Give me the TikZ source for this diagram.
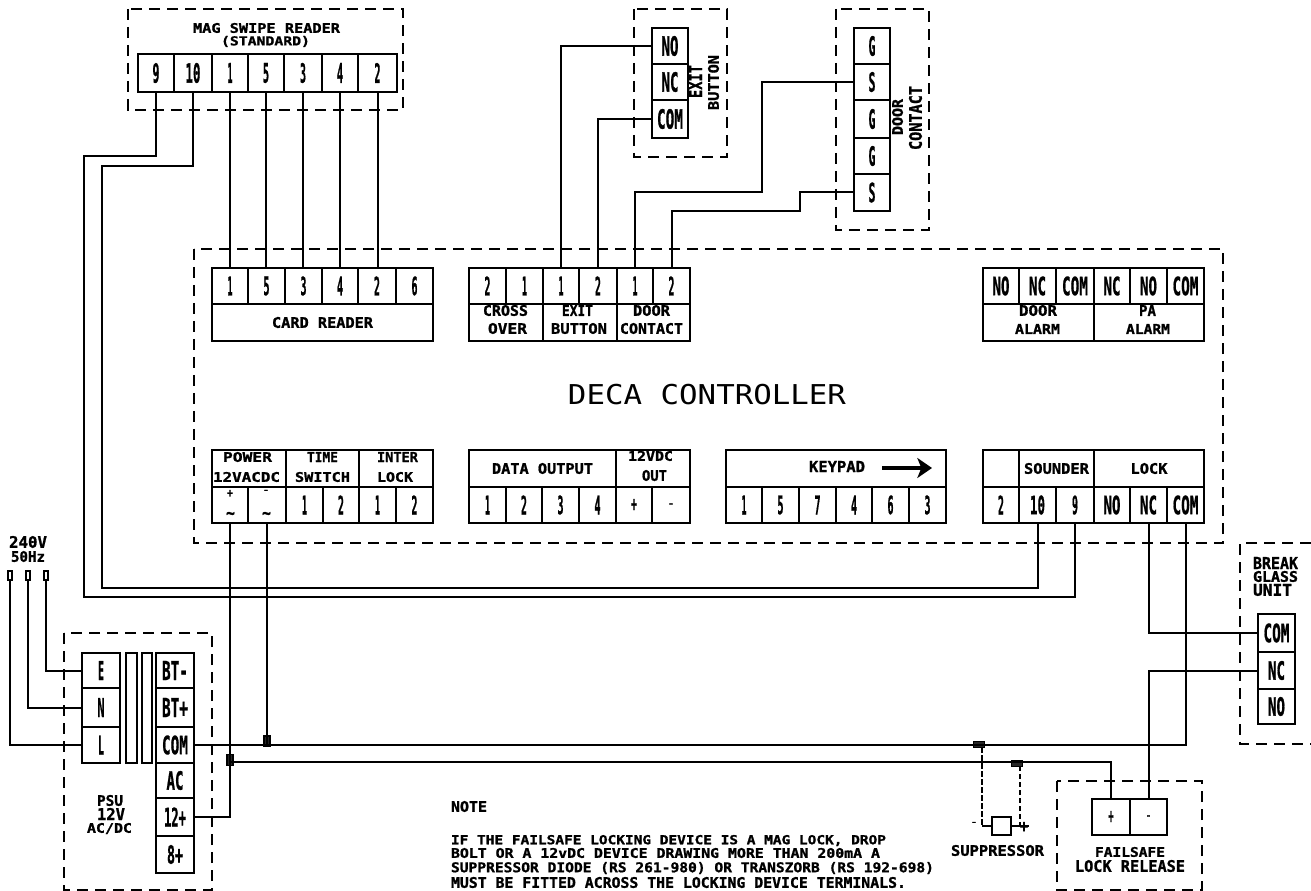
\documentclass[tikz,border=0pt]{standalone}
\usepackage{graphicx}
\usepackage{fontspec}
\setmainfont{DejaVu Sans Mono}[BoldFeatures={FakeBold=1.2}]
\usetikzlibrary{arrows.meta}
\tikzset{
  termbox/.style={draw=black,line width=1.5pt,rectangle,inner sep=0pt,outer sep=0pt,align=center},
  lblnode/.style={inner sep=0pt,outer sep=0pt},
  dashbox/.style={draw=black,line width=1.3pt,dash pattern=on 8.5pt off 5pt},
  wire/.style={draw=black,line width=1.5pt},
  sdash/.style={draw=black,line width=1.2pt,dash pattern=on 4pt off 2pt},
  blob/.style={draw=black,fill=black!85,line width=.8pt,rectangle,inner sep=0pt,outer sep=0pt},
}
\newcommand\fitted[3]{\resizebox*{#1pt}{#2pt}{\bfseries #3}}
% name x1 y1 x2 y2 textw texth text
\newcommand\tbx[8]{%
  \pgfmathsetmacro\cx{(#2+#4)/2}\pgfmathsetmacro\cy{(#3+#5)/2}%
  \pgfmathsetmacro\tw{#6*.75}\pgfmathsetmacro\th{#7*.75}%
  \node[termbox,minimum width={(#4-#2)*.75pt},minimum height={(#5-#3)*.75pt}] (#1) at (\cx,\cy) {\fitted{\tw}{\th}{#8}};}
% empty box
\newcommand\ebx[5]{%
  \pgfmathsetmacro\cx{(#2+#4)/2}\pgfmathsetmacro\cy{(#3+#5)/2}%
  \node[termbox,minimum width={(#4-#2)*.75pt},minimum height={(#5-#3)*.75pt}] (#1) at (\cx,\cy) {};}
% name x1 y1 x2 y2 text
\newcommand\lbl[6]{%
  \pgfmathsetmacro\cx{(#2+#4)/2}\pgfmathsetmacro\cy{(#3+#5)/2}%
  \pgfmathsetmacro\tw{(#4-#2)*.75}\pgfmathsetmacro\th{(#5-#3)*.75}%
  \node[lblnode] (#1) at (\cx,\cy) {\fitted{\tw}{\th}{#6}};}
\newcommand\rlbl[6]{%
  \pgfmathsetmacro\cx{(#2+#4)/2}\pgfmathsetmacro\cy{(#3+#5)/2}%
  \pgfmathsetmacro\tw{(#5-#3)*.75}\pgfmathsetmacro\th{(#4-#2)*.75}%
  \node[lblnode,rotate=90] (#1) at (\cx,\cy) {\fitted{\tw}{\th}{#6}};}
\begin{document}
\begin{tikzpicture}[x=.75pt,y=-.75pt]
\useasboundingbox (0,0) rectangle (1311,891);
\fill[white] (0,0) rectangle (1311,891);
% dashed enclosures
\draw[dashbox] (128,9) rectangle (403,110);
\draw[dashbox] (194,249) rectangle (1223,543);
\draw[dashbox] (634,9) rectangle (727,157);
\draw[dashbox] (836,9) rectangle (929,230);
\draw[dashbox] (64,633) rectangle (212,890);
\draw[dashbox] (1057,781) rectangle (1202,890);
\draw[dashbox] (1311,543) -- (1240,543) -- (1240,744) -- (1311,744);
% mag swipe
\lbl{tmag}{193}{23}{340}{33}{MAG SWIPE READER}
\lbl{tstd}{221}{36}{310}{47}{(STANDARD)}
\tbx{ma}{138}{54}{174}{92}{7}{20}{9}
\tbx{mb}{174}{54}{212}{92}{15}{20}{10}
\tbx{mc}{212}{54}{248}{92}{5}{20}{1}
\tbx{md}{248}{54}{284}{92}{6}{20}{5}
\tbx{me}{284}{54}{322}{92}{6}{20}{3}
\tbx{mf}{322}{54}{358}{92}{6}{20}{4}
\tbx{mg}{358}{54}{397}{92}{6}{20}{2}
% exit button
\tbx{xa}{652}{28}{688}{64}{17}{20}{NO}
\tbx{xb}{652}{64}{688}{100}{17}{20}{NC}
\tbx{xc}{652}{100}{688}{138}{26}{20}{COM}
\rlbl{txa}{689}{65}{702}{98}{EXIT}
\rlbl{txb}{708}{55}{719}{110}{BUTTON}
% door contact
\tbx{da}{854}{28}{890}{64}{7}{20}{G}
\tbx{db}{854}{64}{890}{100}{7}{20}{S}
\tbx{dc}{854}{100}{890}{138}{7}{20}{G}
\tbx{dd}{854}{138}{890}{174}{7}{20}{G}
\tbx{de}{854}{174}{890}{211}{7}{20}{S}
\rlbl{tda}{892}{99}{903}{135}{DOOR}
\rlbl{tdb}{909}{86}{922}{150}{CONTACT}
% controller title
\node[lblnode] (title) at (707,394.5) {\resizebox*{208.5pt}{15.5pt}{DECA CONTROLLER}};
% card reader
\tbx{ca}{212}{268}{248}{304}{5}{19}{1}
\tbx{cb}{248}{268}{285}{304}{6}{19}{5}
\tbx{cc}{285}{268}{322}{304}{6}{19}{3}
\tbx{cd}{322}{268}{358}{304}{6}{19}{4}
\tbx{ce}{358}{268}{396}{304}{6}{19}{2}
\tbx{cf}{396}{268}{433}{304}{6}{19}{6}
\tbx{cl}{212}{304}{433}{341}{101}{11}{CARD READER}
% crossover / exit / door
\tbx{oa}{469}{268}{506}{304}{6}{19}{2}
\tbx{ob}{506}{268}{543}{304}{5}{19}{1}
\tbx{oc}{543}{268}{579}{304}{5}{19}{1}
\tbx{od}{579}{268}{617}{304}{6}{19}{2}
\tbx{oe}{617}{268}{653}{304}{5}{19}{1}
\tbx{of}{653}{268}{690}{304}{6}{19}{2}
\ebx{ol}{469}{304}{543}{341}
\ebx{om}{543}{304}{617}{341}
\ebx{on}{617}{304}{690}{341}
\lbl{ola}{483}{305}{528}{316}{CROSS}
\lbl{olb}{488}{323}{527}{334}{OVER}
\lbl{oma}{562}{305}{593}{316}{EXIT}
\lbl{omb}{551}{323}{607}{334}{BUTTON}
\lbl{ona}{633}{305}{670}{316}{DOOR}
\lbl{onb}{620}{323}{683}{334}{CONTACT}
% alarms
\tbx{aa}{983}{268}{1019}{304}{17}{19}{NO}
\tbx{ab}{1019}{268}{1056}{304}{17}{19}{NC}
\tbx{ac}{1056}{268}{1094}{304}{26}{19}{COM}
\tbx{ad}{1094}{268}{1130}{304}{17}{19}{NC}
\tbx{ae}{1130}{268}{1167}{304}{17}{19}{NO}
\tbx{af}{1167}{268}{1204}{304}{26}{19}{COM}
\ebx{al}{983}{304}{1094}{341}
\ebx{am}{1094}{304}{1204}{341}
\lbl{ala}{1019}{305}{1057}{316}{DOOR}
\lbl{alb}{1015}{324}{1060}{334}{ALARM}
\lbl{ama}{1139}{305}{1156}{316}{PA}
\lbl{amb}{1126}{324}{1170}{334}{ALARM}
% power group
\ebx{pl}{212}{450}{286}{487}
\ebx{pm}{286}{450}{359}{487}
\ebx{pn}{359}{450}{433}{487}
\lbl{pla}{223}{452}{272}{462}{POWER}
\lbl{plb}{213}{472}{280}{482}{12VACDC}
\lbl{pma}{307}{452}{338}{462}{TIME}
\lbl{pmb}{295}{472}{350}{482}{SWITCH}
\lbl{pna}{377}{452}{418}{462}{INTER}
\lbl{pnb}{377}{472}{413}{482}{LOCK}
\ebx{pa}{212}{487}{248}{523}
\ebx{pb}{248}{487}{286}{523}
\lbl{paa}{227}{490}{233}{497}{+}
\lbl{pab}{226}{512}{235}{519}{\~{}}
\lbl{pba}{263}{490}{269}{492}{-}
\lbl{pbb}{262}{512}{271}{519}{\~{}}
\tbx{pc}{286}{487}{323}{523}{5}{19}{1}
\tbx{pd}{323}{487}{359}{523}{6}{19}{2}
\tbx{pe}{359}{487}{396}{523}{5}{19}{1}
\tbx{pf}{396}{487}{433}{523}{6}{19}{2}
% data output
\tbx{ql}{469}{450}{616}{487}{101}{11}{DATA OUTPUT}
\ebx{qm}{616}{450}{690}{487}
\lbl{qma}{628}{451}{673}{461}{12VDC}
\lbl{qmb}{642}{470}{667}{481}{OUT}
\tbx{qa}{469}{487}{506}{523}{5}{19}{1}
\tbx{qb}{506}{487}{542}{523}{6}{19}{2}
\tbx{qc}{542}{487}{579}{523}{6}{19}{3}
\tbx{qd}{579}{487}{616}{523}{6}{19}{4}
\tbx{qe}{616}{487}{652}{523}{6}{12}{+}
\tbx{qf}{652}{487}{690}{523}{6}{3}{-}
% keypad
\ebx{kl}{726}{450}{946}{487}
\lbl{kla}{809}{461}{865}{472}{KEYPAD}
\coordinate (karrowa) at (882,468);
\coordinate (karrowb) at (932,468);
\draw[line width=3.3pt,-{Stealth[length=11pt,width=15pt,inset=3pt]}] (karrowa) -- (karrowb);
\tbx{ka}{726}{487}{762}{523}{5}{19}{1}
\tbx{kb}{762}{487}{799}{523}{6}{19}{5}
\tbx{kc}{799}{487}{836}{523}{6}{19}{7}
\tbx{kd}{836}{487}{872}{523}{6}{19}{4}
\tbx{ke}{872}{487}{909}{523}{6}{19}{6}
\tbx{kf}{909}{487}{946}{523}{6}{19}{3}
% sounder / lock
\ebx{sb}{983}{450}{1019}{487}
\tbx{sl}{1019}{450}{1094}{487}{65}{11}{SOUNDER}
\tbx{sm}{1094}{450}{1204}{487}{37}{11}{LOCK}
\tbx{sa}{983}{487}{1019}{523}{6}{19}{2}
\tbx{sc}{1019}{487}{1056}{523}{15}{19}{10}
\tbx{sd}{1056}{487}{1094}{523}{6}{19}{9}
\tbx{se}{1094}{487}{1130}{523}{17}{19}{NO}
\tbx{sf}{1130}{487}{1167}{523}{17}{19}{NC}
\tbx{sg}{1167}{487}{1204}{523}{26}{19}{COM}
% mains
\lbl{mva}{9}{536}{47}{548}{240V}
\lbl{mvb}{11}{551}{45}{562}{50Hz}
\ebx{pin1}{8}{571}{12}{580}
\ebx{pin2}{26}{571}{30}{580}
\ebx{pin3}{44}{571}{48}{580}
% psu
\tbx{ue}{82}{653}{120}{688}{6}{19}{E}
\tbx{un}{82}{688}{120}{727}{7}{19}{N}
\tbx{ul}{82}{727}{120}{763}{6}{19}{L}
\ebx{bar1}{126}{653}{137}{763}
\ebx{bar2}{142}{653}{152}{763}
\tbx{va}{156}{653}{194}{688}{26}{19}{BT-}
\tbx{vb}{156}{688}{194}{727}{26}{19}{BT+}
\tbx{vc}{156}{727}{194}{763}{26}{19}{COM}
\tbx{vd}{156}{763}{194}{798}{17}{19}{AC}
\tbx{ve}{156}{798}{194}{836}{22}{19}{12+}
\tbx{vf}{156}{836}{194}{873}{16}{19}{8+}
\lbl{pua}{97}{795}{123}{806}{PSU}
\lbl{pub}{97}{808}{125}{820}{12V}
\lbl{puc}{87}{823}{132}{834}{AC/DC}
% break glass
\lbl{bga}{1253}{557}{1298}{569}{BREAK}
\lbl{bgb}{1253}{571}{1298}{582}{GLASS}
\lbl{bgc}{1253}{584}{1292}{596}{UNIT}
\tbx{ga}{1258}{614}{1295}{652}{26}{19}{COM}
\tbx{gb}{1258}{652}{1295}{689}{17}{19}{NC}
\tbx{gc}{1258}{689}{1295}{724}{17}{19}{NO}
% failsafe
\tbx{fa}{1092}{799}{1130}{835}{5}{12}{+}
\tbx{fb}{1130}{799}{1167}{835}{5}{3}{-}
\lbl{fla}{1095}{847}{1165}{857}{FAILSAFE}
\lbl{flb}{1075}{860}{1185}{872}{LOCK RELEASE}
% suppressor
\ebx{sup}{992}{817}{1011}{835}
\lbl{sua}{951}{845}{1044}{856}{SUPPRESSOR}
\lbl{sub}{971}{822}{977}{824}{-}
\lbl{suc}{1020}{822}{1028}{832}{+}
\coordinate (sl) at (982,826);
\coordinate (sr) at (1029,826);
% note
\lbl{na}{451}{801}{487}{812}{NOTE}
\lbl{nb}{451}{835}{886}{846}{IF THE FAILSAFE LOCKING DEVICE IS A MAG LOCK, DROP}
\lbl{nc}{451}{848}{880}{858}{BOLT OR A 12vDC DEVICE DRAWING MORE THAN 200mA A}
\lbl{nd}{451}{862}{934}{874}{SUPPRESSOR DIODE (RS 261-980) OR TRANSZORB (RS 192-698)}
\lbl{ne}{451}{877}{906}{888}{MUST BE FITTED ACROSS THE LOCKING DEVICE TERMINALS.}
% mag to card
\draw[wire] (mc.south) -- (mc.south |- ca.north);
\draw[wire] (md.south) -- (md.south |- cb.north);
\draw[wire] (me.south) -- (me.south |- cc.north);
\draw[wire] (mf.south) -- (mf.south |- cd.north);
\draw[wire] (mg.south) -- (mg.south |- ce.north);
% exit and door wires
\draw[wire] (xa.west) -| (oc.north);
\draw[wire] (xc.west) -| (od.north);
\draw[wire] (db.west) -| (762,192) -| (oe.north);
\draw[wire] (de.west) -| (800,211) -| (of.north);
% 9 and 10 to sounder
\draw[wire] (ma.south) |- (84,156) -- (84,597) -| (sd.south);
\draw[wire] (mb.south) |- (102,166) -- (102,588) -| (sc.south);
% mains
\draw[wire] (pin3.south) |- (ue.west);
\draw[wire] (pin2.south) |- (un.west);
\draw[wire] (pin1.south) |- (ul.west);
% junctions
\node[blob,minimum width=4.5pt,minimum height=7.5pt] (b1) at (267,741) {};
\node[blob,minimum width=4.5pt,minimum height=8.5pt] (b2) at (230,760) {};
\node[blob,minimum width=8pt,minimum height=4pt] (b3) at (979,744.5) {};
\node[blob,minimum width=8pt,minimum height=4pt] (b4) at (1017,763.5) {};
\coordinate (j2) at (230,762);
% power
\draw[wire] (ve.east) -| (pa.south);
\draw[wire] (pb.south) -- (b1.south);
\draw[wire] (vc.east) -| (sg.south);
\draw[wire] (j2) -| (fa.north);
\draw[wire] (fb.north) |- (gb.west);
\draw[wire] (sf.south) |- (ga.west);
% suppressor wiring
\draw[sdash] (b3.south -| sl) -- (sl);
\draw[sdash] (1020,766) -- (1020,826);
\draw[wire] (sl) -- (sup.west);
\draw[wire] (sup.east) -- (sr);
\end{tikzpicture}
\end{document}
